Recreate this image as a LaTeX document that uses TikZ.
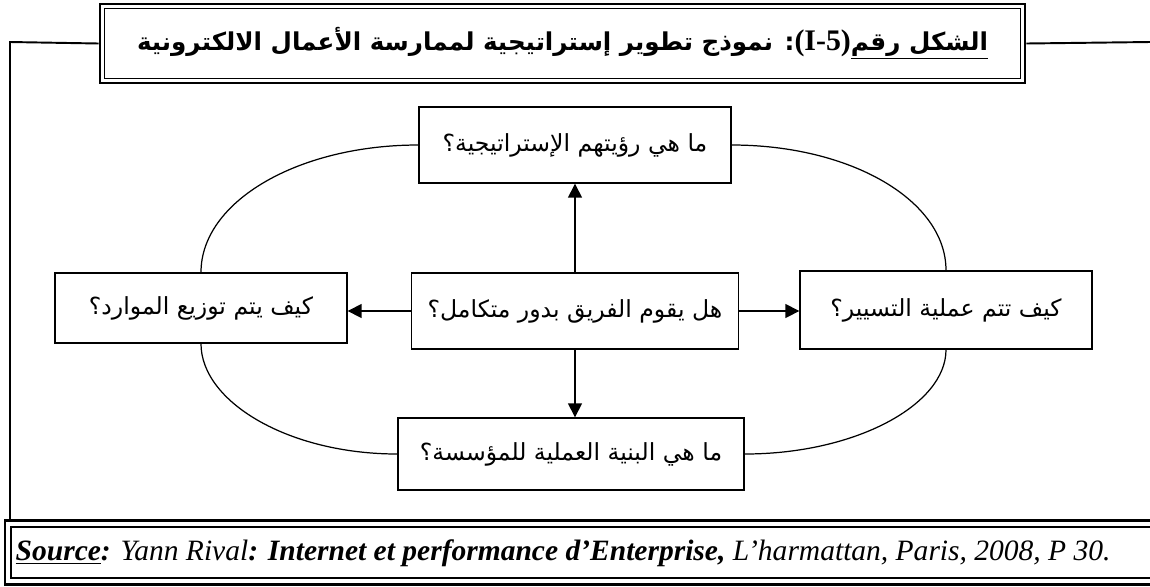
\documentclass[tikz,border=0pt]{standalone}
\usepackage{fontspec}
\setmainfont{Liberation Serif}
\newfontfamily\arabicfont[Script=Arabic]{DejaVu Sans}
\TeXXeTstate=1
\usetikzlibrary{arrows.meta}

\begin{document}
\begin{tikzpicture}
  [x=0.02cm,y=-0.02cm,line width=0.8pt,
   box/.style={draw,inner sep=0pt,font=\arabicfont\fontsize{13.4}{16}\selectfont},
   arrow/.style={-{Triangle[length=0.28cm,width=0.28cm]}}]
  \tikzstyle{curve} = [line width=0.7pt]
  \useasboundingbox (0,0) rectangle (1150,586);
  % title with double frame
  \node[draw,line width=1.6pt,inner sep=0pt,minimum width=18.5cm,minimum height=1.58cm] (title) at (562.5,43.5)
    {\arabicfont\bfseries\fontsize{14}{16}\selectfont\beginR\underline{\beginR الشكل رقم\endR}\beginL{\rmfamily\bfseries\fontsize{17}{18}\selectfont(I-5)}\endL: نموذج تطوير إستراتيجية لممارسة الأعمال الالكترونية\endR};
  \draw ([shift={(6,6)}]title.north west) rectangle ([shift={(-6,-6)}]title.south east);
  % outer frame
  \coordinate (ftl) at (10,42);
  \coordinate (ftr) at (1150,42);
  \coordinate (fbl) at (10,521);
  \draw[line width=1.1pt] (title.west) -- (ftl) -- (fbl);
  \draw[line width=1.1pt] (title.east) -- (ftr);
  % questions
  \node[box,minimum width=6.24cm,minimum height=1.52cm] (vision) at (575,145) {\beginR ما هي رؤيتهم الإستراتيجية؟\endR};
  \node[box,minimum width=6.54cm,minimum height=1.52cm] (team) at (575,311) {\beginR هل يقوم الفريق بدور متكامل؟\endR};
  \node[box,minimum width=5.84cm,minimum height=1.40cm] (resources) at (201,308) {\beginR كيف يتم توزيع الموارد؟\endR};
  \node[box,minimum width=5.84cm,minimum height=1.56cm] (steering) at (946,310) {\beginR كيف تتم عملية التسيير؟\endR};
  \node[box,minimum width=6.92cm,minimum height=1.44cm] (structure) at (571,454) {\beginR ما هي البنية العملية للمؤسسة؟\endR};
  \foreach \source/\dest in {team.north/vision.south,team.south/structure.north}
    \draw[arrow] (\source) -- (\source |- \dest);
  \foreach \source/\dest in {team.west/resources.east,team.east/steering.west}
    \draw[arrow] (\source) -- (\source -| \dest);
  % the ring
  \draw[curve] (vision.west) .. controls +(-120,0) and +(0,-71) .. (resources.north);
  \draw[curve] (vision.east) .. controls +(119,0) and +(0,-70) .. (steering.north);
  \draw[curve] (resources.south) .. controls +(0,58) and +(-109,0) .. (structure.west);
  \draw[curve] (steering.south) .. controls +(0,55) and +(111,0) .. (structure.east);
  % source
  \draw[line width=1.7pt] (5,520) rectangle (1160,584);
  \draw[line width=0.8pt] (11,527) rectangle (1160,578);
  \node[anchor=west,inner sep=0pt,font=\fontsize{16.8}{20}\selectfont] (source) at (15,553)
    {\textbf{\textit{\underline{Source}:}} \textit{Yann Rival}\textbf{\textit{: Internet et performance d’Enterprise,}} \textit{L’harmattan, Paris, 2008, P 30.}};
\end{tikzpicture}
\end{document}
